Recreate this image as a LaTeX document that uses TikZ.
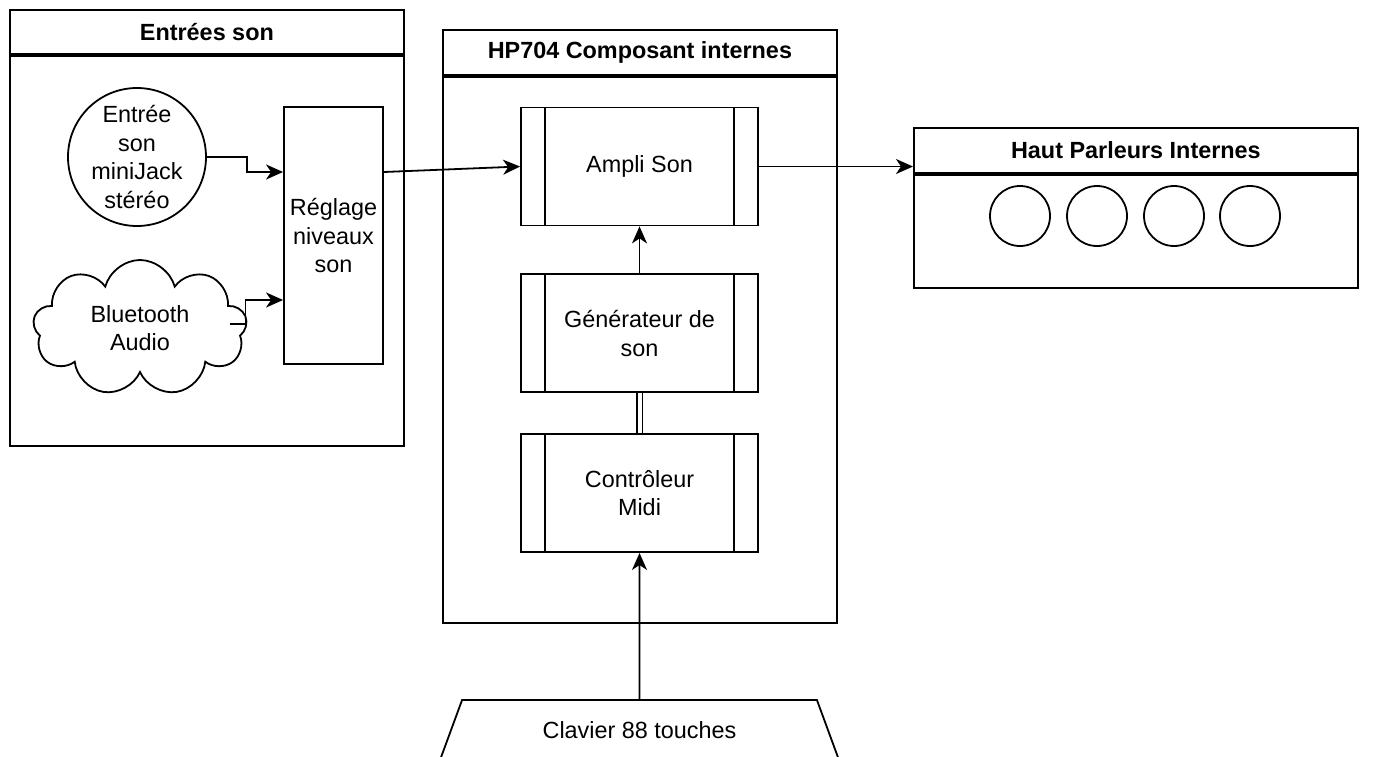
\documentclass[tikz,border=0pt]{standalone}
\usepackage{fontspec}
\setmainfont{Liberation Sans}
\usetikzlibrary{positioning, arrows.meta, shapes.geometric, shapes.symbols}

\begin{document}
\begin{tikzpicture}[x=1pt, y=-1pt, line width=1.8pt, >={Stealth[length=17pt,width=15pt,inset=5pt]},
  every node/.style={font=\fontsize{23.4}{28.5}\selectfont, inner sep=0pt, align=center},
  box/.style={draw, rectangle},
  head/.style={box, anchor=north west, font=\fontsize{23.4}{28.5}\selectfont\bfseries},
  body/.style={box, anchor=north west},
  proc/.style={box, minimum width=237pt, minimum height=118pt,
    path picture={\draw[line width=1.8pt]
      ([xshift=24pt]path picture bounding box.north west) -- ([xshift=24pt]path picture bounding box.south west)
      ([xshift=-24pt]path picture bounding box.north east) -- ([xshift=-24pt]path picture bounding box.south east);}}]
\clip (0,0) rectangle (1375,757);

% Entrees son
\node[head, minimum width=394pt, minimum height=44pt] (entreestitle) at (9,9) {Entrées son};
\node[body, minimum width=394pt, minimum height=390pt] (entrees) at (entreestitle.south west) {};
\node[draw, circle, minimum size=138pt] (jack) at (137,157) {Entrée\\son\\miniJack\\stéréo};
\node[box, minimum width=99pt, minimum height=257pt] (reglage) at (333.5,235.5) {Réglage\\niveaux\\son};
\node[draw, cloud, cloud puffs=9, aspect=1.6, minimum width=214pt, minimum height=136pt] (bluetooth) at (140,328) {Bluetooth\\Audio};

% HP704
\node[head, minimum width=394pt, minimum height=45pt] (hpinttitle) at (442,29) {HP704 Composant internes};
\node[body, minimum width=394pt, minimum height=546pt] (hpint) at (hpinttitle.south west) {};
\node[proc] (ampli) at (639.5,166.5) {Ampli Son};
\node[proc, below=47pt of ampli] (generateur) {Générateur de\\son};
\node[proc, below=40pt of generateur] (controleur) {Contrôleur\\Midi};
\node[draw, trapezium, trapezium angle=55, trapezium stretches=true, minimum width=400pt, minimum height=60pt] (clavier) at (639.5,730) {Clavier 88 touches};

% haut parleurs
\node[head, minimum width=444pt, minimum height=45pt] (hptitle) at (913,127) {Haut Parleurs Internes};
\node[body, minimum width=444pt, minimum height=113pt] (hp) at (hptitle.south west) {};
\foreach \i/\x in {1/1020,2/1097,3/1174,4/1250}
  \node[draw, circle, minimum size=60pt] (hp\i) at (\x,216) {};

\draw[->] (jack.east) -- ++(40,0) |- ([yshift=63.5pt]reglage.west);
\draw[->] ([xshift=-17pt,yshift=4pt]bluetooth.east) -- ++(16,0) |- ([yshift=-64.5pt]reglage.west);
\draw[->] ([yshift=63.5pt]reglage.east) -- (ampli.west);
\draw[->] (ampli.east) -- (ampli.east -| hptitle.west);
\draw[->] (generateur.north) -- (ampli.south);
\draw[double, double distance=4pt] (controleur.north) -- (generateur.south);
\draw[->] (clavier.north) -- (controleur.south);

\end{tikzpicture}
\end{document}
